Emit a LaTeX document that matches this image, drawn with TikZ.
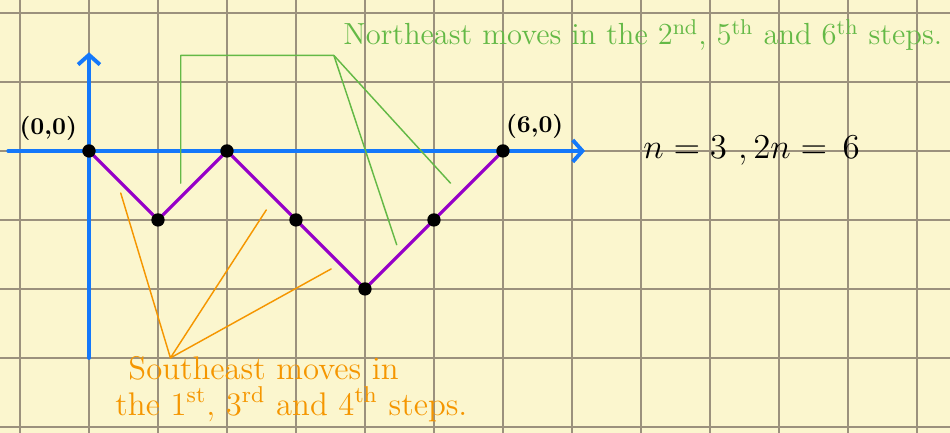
\documentclass[tikz,border=0pt]{standalone}
\usetikzlibrary{arrows.meta}
\definecolor{paper}{RGB}{251,246,206}
\definecolor{gridline}{RGB}{155,145,125}
\definecolor{axisblue}{RGB}{20,120,250}
\definecolor{pathpurple}{RGB}{150,0,200}
\definecolor{notegreen}{RGB}{100,185,70}
\definecolor{noteorange}{RGB}{245,150,0}
\begin{document}
\begin{tikzpicture}[line join=round, line cap=round, >={Straight Barb[length=4pt,width=9pt]},
	pathdot/.style={circle,fill=black,inner sep=0pt,minimum size=5.5pt},
	leader/.style={line width=0.6pt}]
			\fill[paper] (-1.29,-4.087) rectangle (12.48,2.188);
			\useasboundingbox (-1.29,-4.087) rectangle (12.48,2.188);
			\draw[gridline, line width=0.6pt, step=1] (-1.29,-4.087) grid (12.48,2.188);
			% axes
			\coordinate (xs) at (-1.17,0);
			\coordinate (xe) at (7.19,0);
			\coordinate (ys) at (0,-3);
			\coordinate (ye) at (0,1.43);
			\draw[axisblue, line width=1.6pt, ->] (xs)--(xe);
			\draw[axisblue, line width=1.6pt, ->] (ys)--(ye);
			% lattice path
			\foreach \i/\x/\y in {0/0/0, 1/1/-1, 2/2/0, 3/3/-1, 4/4/-2, 5/5/-1, 6/6/0}
				\coordinate (p\i) at (\x,\y);
			\draw[pathpurple, line width=1.3pt] (p0)--(p1)--(p2)--(p3)--(p4)--(p5)--(p6);
			\foreach \i in {0,...,6}
				\node[pathdot] (d\i) at (p\i){};
			\node at (-0.59,0.33){\bfseries (0,0)};
			\node at (6.46,0.35){\bfseries (6,0)};
			\node[anchor=west, inner sep=0pt] (nn) at (8.03,0){\fontsize{14}{17}\selectfont $n=3\ ,2n=\,6$};
			% northeast note
			\node[notegreen, anchor=base west, inner sep=0pt] (ne) at (3.68,1.54){\fontsize{12.6}{15}\selectfont Northeast moves in the 2\textsuperscript{nd}, 5\textsuperscript{th} and 6\textsuperscript{th} steps.};
			\coordinate (gb) at (1.33,-0.467);
			\coordinate (gt) at (1.33,1.384);
			\coordinate (gh) at (3.55,1.384);
			\coordinate (g1) at (5.24,-0.467);
			\coordinate (g2) at (4.46,-1.36);
			\draw[notegreen, leader] (gb)--(gt)--(gh)--(g1);
			\draw[notegreen, leader] (gh)--(g2);
			% southeast note
			\node[noteorange, anchor=base west, inner sep=0pt] (se1) at (0.565,-3.32){\fontsize{13.5}{16}\selectfont Southeast moves in};
			\node[noteorange, anchor=base west, inner sep=0pt] (se2) at (0.377,-3.83){\fontsize{13.5}{16}\selectfont the 1\textsuperscript{st}, 3\textsuperscript{rd} and 4\textsuperscript{th} steps.};
			\coordinate (oh) at (1.18,-3.0);
			\coordinate (o1) at (0.46,-0.61);
			\coordinate (o2) at (2.57,-0.855);
			\coordinate (o3) at (3.51,-1.71);
			\draw[noteorange, leader] (o1)--(oh)--(o2);
			\draw[noteorange, leader] (oh)--(o3);
	\end{tikzpicture}
\end{document}
